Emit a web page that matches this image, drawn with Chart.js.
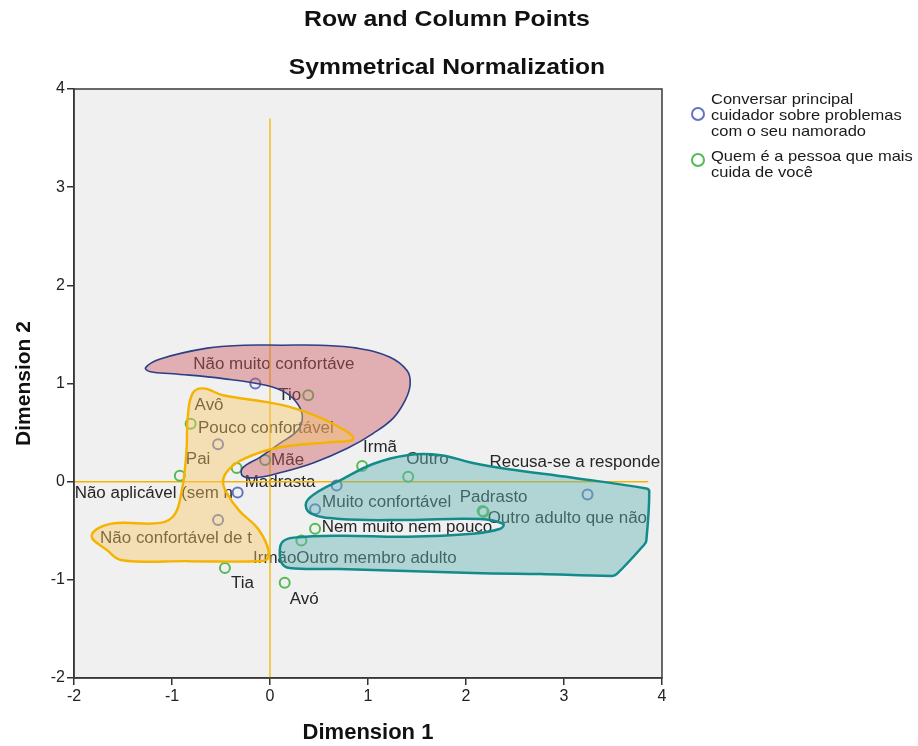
<!DOCTYPE html>
<html><head><meta charset="utf-8">
<script src="https://cdn.jsdelivr.net/npm/chart.js@4.4.1/dist/chart.umd.min.js"></script>
<style>html,body{margin:0;padding:0;background:#fff;}canvas{display:block;}</style>
</head><body>
<canvas id="c" width="918" height="746"></canvas>
<script>
// ---------- texts ----------
const chartTitle = "Row and Column Points";
const chartSubtitle = "Symmetrical Normalization";
const xAxisTitle = "Dimension 1";
const yAxisTitle = "Dimension 2";
const axisTicks = [-2, -1, 0, 1, 2, 3, 4];

// ---------- row points (comfort talking to caregiver) ----------
const rowSeriesName = ["Conversar principal", "cuidador sobre problemas", "com o seu namorado"];
const rowLabels = ["Não muito confortáve", "Pouco confortável", "Não aplicável (sem n", "Não confortável de t",
                   "Nem muito nem pouco", "Muito confortável", "Recusa-se a responde"];
const rowDim1 = [-0.15, -0.53, -0.33, -0.53, 0.68, 0.46, 3.24];
const rowDim2 = [1.00, 0.38, -0.11, -0.39, -0.04, -0.28, -0.13];

// ---------- column points (main caregiver) ----------
const colSeriesName = ["Quem é a pessoa que mais", "cuida de você"];
const colLabels = ["Tio", "Avô", "Pai", "Madrasta", "Mãe", "Irmã", "Outro", "Padrasto",
                   "Outro adulto que não", "Irmão", "Outro membro adulto", "Tia", "Avó"];
const colDim1 = [0.39, -0.81, -0.92, -0.34, -0.05, 0.94, 1.41, 2.17, 2.18, 0.46, 0.32, -0.46, 0.15];
const colDim2 = [0.88, 0.59, 0.06, 0.14, 0.22, 0.16, 0.05, -0.30, -0.31, -0.48, -0.60, -0.88, -1.03];

// ---------- reference lines ----------
const vRefDim1 = [0, 0];
const vRefDim2 = [-2, 3.70];
const hRefDim1 = [-2, 3.86];
const hRefDim2 = [0, 0];

// ---------- group outlines (dimension coordinates) ----------
const hullRedDim1 = [0.12, 0.51, 0.89, 1.22, 1.40, 1.43, 1.38, 1.26, 1.05, 0.79, 0.44, 0.10, -0.15, -0.28, -0.28, -0.10, 0.10, 0.28, 0.33, 0.29, 0.17, -0.03, -0.48, -0.99, -1.22, -1.27, -1.12, -0.64, -0.26, 0.12];
const hullRedDim2 = [1.39, 1.39, 1.36, 1.27, 1.13, 0.99, 0.83, 0.65, 0.49, 0.34, 0.19, 0.09, 0.04, 0.06, 0.14, 0.25, 0.39, 0.52, 0.65, 0.78, 0.90, 0.98, 1.05, 1.10, 1.12, 1.16, 1.25, 1.36, 1.39, 1.39];

const hullYellowDim1 = [-0.82, -0.10, -0.02, -0.03, -0.13, -0.31, -0.44, -0.48, -0.44, -0.31, -0.03, 0.24, 0.58, 0.85, 0.58, 0.24, -0.03, -0.48, -0.68, -0.79, -0.84, -0.85, -0.87, -0.90, -0.97, -1.12, -1.63, -1.82, -1.66, -1.51, -0.82];
const hullYellowDim2 = [-0.81, -0.81, -0.78, -0.65, -0.47, -0.30, -0.12, 0.00, 0.10, 0.21, 0.32, 0.37, 0.40, 0.44, 0.62, 0.75, 0.81, 0.88, 0.95, 0.90, 0.65, 0.35, 0.11, -0.09, -0.33, -0.42, -0.43, -0.55, -0.70, -0.80, -0.81];

const hullTealDim1 = [2.76, 2.07, 0.71, 0.20, 0.12, 0.10, 0.13, 0.24, 0.71, 1.40, 2.07, 2.35, 2.38, 2.14, 1.40, 0.71, 0.41, 0.37, 0.51, 0.71, 1.05, 1.40, 1.74, 2.07, 2.42, 3.09, 3.84, 3.87, 3.84, 3.82, 3.54, 3.49, 2.76];
const hullTealDim2 = [-0.94, -0.93, -0.89, -0.88, -0.83, -0.70, -0.61, -0.57, -0.55, -0.56, -0.53, -0.48, -0.43, -0.38, -0.39, -0.38, -0.32, -0.21, -0.09, 0.01, 0.18, 0.27, 0.27, 0.19, 0.13, 0.04, -0.07, -0.10, -0.60, -0.64, -0.94, -0.96, -0.94];

// ---------- styling / layout (kept apart from data) ----------
const rowColor = '#6473c0';
const colColor = '#55ba55';
const labelOffsets = {
  row: [[-62,-19],[-20,-16],[-163,1],[-118,19],[-15,42],[7,-7],[-98,-32]],
  col: [[-30,0],[4,-18],[6,-16],[8,15],[6,1],[1,-18],[-2,-17],[-23,-14],[4,6],[-62,30],[-5,18],[6,16],[5,17]]
};
const FONT = '"Liberation Sans", Arial, sans-serif';

function pts(xs, ys) { return xs.map((v, i) => ({x: v, y: ys[i]})); }

function stretchText(ctx, text, x, y, sx, align) {
  ctx.save();
  ctx.translate(x, y);
  ctx.scale(sx, 1);
  ctx.textAlign = align || 'left';
  ctx.fillText(text, 0, 0);
  ctx.restore();
}

const backgroundPlugin = {
  id: 'bg',
  beforeDraw(chart) {
    const {ctx, chartArea: a} = chart;
    ctx.save();
    ctx.fillStyle = '#ffffff';
    ctx.fillRect(0, 0, chart.width, chart.height);
    ctx.fillStyle = '#f0f0f0';
    ctx.fillRect(a.left, a.top, a.right - a.left, a.bottom - a.top);
    ctx.restore();
  }
};

const pointLabelPlugin = {
  id: 'pointLabels',
  beforeDatasetsDraw(chart) {
    const {ctx, scales: {x, y}} = chart;
    ctx.save();
    ctx.font = '16px ' + FONT;
    ctx.fillStyle = '#262626';
    ctx.textBaseline = 'middle';
    const groups = [[rowLabels, rowDim1, rowDim2, labelOffsets.row], [colLabels, colDim1, colDim2, labelOffsets.col]];
    groups.forEach(([names, xs, ys, offs]) => names.forEach((n, i) => {
      const px = x.getPixelForValue(xs[i]) + offs[i][0];
      const py = y.getPixelForValue(ys[i]) + offs[i][1];
      stretchText(ctx, n, px, py, 1.06, 'left');
    }));
    ctx.restore();
  }
};

const frameTitleLegendPlugin = {
  id: 'frameTitleLegend',
  afterDraw(chart) {
    const {ctx, chartArea: a} = chart;
    ctx.save();
    ctx.strokeStyle = '#3a3a3a';
    ctx.lineWidth = 1.5;
    ctx.strokeRect(a.left, a.top, a.right - a.left, a.bottom - a.top);
    // titles
    ctx.fillStyle = '#111111';
    ctx.textBaseline = 'middle';
    ctx.font = 'bold 22px ' + FONT;
    stretchText(ctx, chartTitle, 447, 20, 1.13, 'center');
    stretchText(ctx, chartSubtitle, 447, 68, 1.12, 'center');
    // legend
    const items = [
      {lines: rowSeriesName, color: rowColor, cy: 114, ty: 100},
      {lines: colSeriesName, color: colColor, cy: 160, ty: 157}
    ];
    ctx.font = '15px ' + FONT;
    items.forEach(it => {
      ctx.beginPath();
      ctx.arc(698, it.cy, 6, 0, Math.PI * 2);
      ctx.strokeStyle = it.color;
      ctx.lineWidth = 2;
      ctx.stroke();
      ctx.fillStyle = '#1a1a1a';
      it.lines.forEach((l, k) => stretchText(ctx, l, 711, it.ty + k * 16, 1.1, 'left'));
    });
    ctx.restore();
  }
};

function scaleOpts(titleText, titleSize, titlePad) {
  return {
    type: 'linear',
    min: -2, max: 4,
    afterBuildTicks: s => { s.ticks = axisTicks.map(v => ({value: v})); },
    ticks: {font: {family: FONT, size: 16}, color: '#222222', padding: 2},
    grid: {drawOnChartArea: false, drawTicks: true, tickLength: 7, color: '#333333', lineWidth: 1.5},
    border: {display: true, color: '#333333', width: 1.5},
    title: {display: true, text: titleText, color: '#111111', font: {family: FONT, size: titleSize, weight: 'bold'}, padding: titlePad}
  };
}

const xOpts = scaleOpts(xAxisTitle, 22, {top: 0, bottom: 0});
xOpts.afterFit = s => { s.height = 68; };
const yOpts = scaleOpts(yAxisTitle, 21, {top: 12, bottom: 0});
yOpts.afterFit = s => { s.width = 74; };

new Chart(document.getElementById('c'), {
  type: 'scatter',
  data: {
    datasets: [
      {type: 'line', label: 'refV', data: pts(vRefDim1, vRefDim2), borderColor: '#f5b300', borderWidth: 1.3, pointRadius: 0, fill: false, order: 10},
      {type: 'line', label: 'refH', data: pts(hRefDim1, hRefDim2), borderColor: '#f5b300', borderWidth: 1.5, pointRadius: 0, fill: false, order: 10},
      {label: rowSeriesName.join(' '), data: pts(rowDim1, rowDim2), pointRadius: 5, pointBorderWidth: 2,
       pointBackgroundColor: 'rgba(0,0,0,0)', pointBorderColor: rowColor, order: 8},
      {label: colSeriesName.join(' '), data: pts(colDim1, colDim2), pointRadius: 5, pointBorderWidth: 2,
       pointBackgroundColor: 'rgba(0,0,0,0)', pointBorderColor: colColor, order: 8},
      {type: 'line', label: 'hullRed', data: pts(hullRedDim1, hullRedDim2), borderColor: '#2b3f86', borderWidth: 1.6,
       backgroundColor: 'rgba(205,90,95,0.44)', fill: 'shape', tension: 0.4, pointRadius: 0, order: 3},
      {type: 'line', label: 'hullYellow', data: pts(hullYellowDim1, hullYellowDim2), borderColor: '#f5b300', borderWidth: 2.4,
       backgroundColor: 'rgba(250,200,100,0.42)', fill: 'shape', tension: 0.4, pointRadius: 0, order: 2},
      {type: 'line', label: 'hullTeal', data: pts(hullTealDim1, hullTealDim2), borderColor: '#138b8b', borderWidth: 2.5,
       backgroundColor: 'rgba(100,180,180,0.45)', fill: 'shape', tension: 0.4, pointRadius: 0, order: 1}
    ]
  },
  options: {
    responsive: false,
    animation: false,
    events: [],
    layout: {padding: {top: 89, right: 256, bottom: 0, left: 0}},
    plugins: {legend: {display: false}, tooltip: {enabled: false}, title: {display: false}},
    scales: {x: xOpts, y: yOpts}
  },
  plugins: [backgroundPlugin, pointLabelPlugin, frameTitleLegendPlugin]
});
</script>
</body></html>
